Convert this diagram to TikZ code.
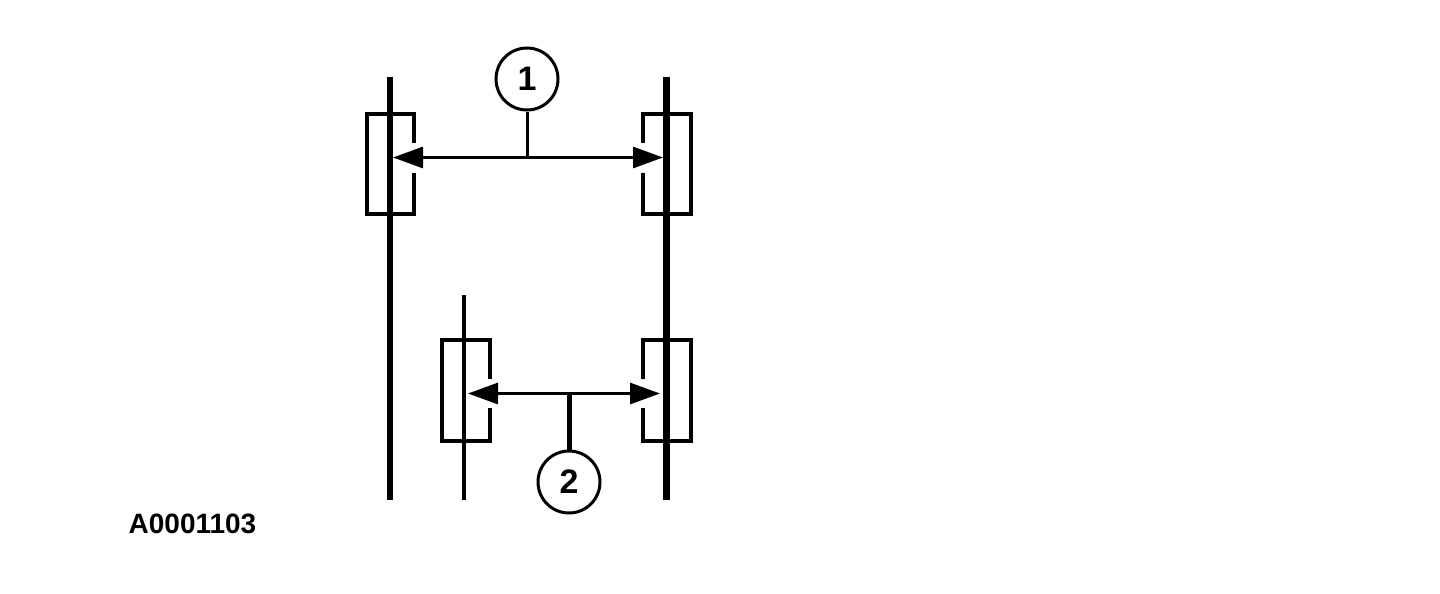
\documentclass[tikz,border=0pt]{standalone}
\usepackage{fontspec}
\setmainfont{Liberation Sans}
\usetikzlibrary{arrows.meta}
\tikzstyle{callout} = [circle, minimum size=31pt, inner sep=0pt, text centered, draw=black, line width=1.5pt, font=\fontsize{17}{17}\selectfont\bfseries]
\tikzstyle{caption} = [inner sep=0pt, font=\fontsize{14}{14}\selectfont\bfseries]
\tikzstyle{axle} = [line width=3.2pt]
\tikzstyle{thinaxle} = [line width=2pt]
\tikzstyle{wheel} = [line width=2pt, miter limit=10]
\tikzstyle{leader} = [line width=1.5pt]
\tikzstyle{arrow} = [-{Stealth[length=15pt, width=10.5pt, inset=0pt]}, line width=1.5pt]

\begin{document}
\begin{tikzpicture}[x=0.5pt, y=-0.5pt]
		\useasboundingbox (0,0) rectangle (1440,594);
		%callouts and part number
		\node[callout](num1) at (527,79){1};
		\node[callout](num2) at (569,482){2};
		\node[caption](partno) at (192.5,523.5){A0001103};
		%axle ends
		\coordinate (topL) at (390,77);
		\coordinate (botL) at (390,500);
		\coordinate (topR) at (666.5,77);
		\coordinate (botR) at (666.5,500);
		\coordinate (topM) at (464,295);
		\coordinate (botM) at (464,500);
		%arrow points
		\coordinate (jun1) at (527,157.5);
		\coordinate (tip1L) at (393,157.5);
		\coordinate (tip1R) at (663,157.5);
		\coordinate (jun2) at (569,393.5);
		\coordinate (tip2L) at (468,393.5);
		\coordinate (tip2R) at (660,393.5);
		%axles
		\draw [axle] (topL) -- (botL);
		\draw [axle] (topR) -- (botR);
		\draw [thinaxle] (topM) -- (botM);
		%wheels with a gap for the arrow
		\draw [wheel] (414,143) -- (414,114) -- (366.5,114) -- (366.5,214) -- (414,214) -- (414,173);
		\draw [wheel] (642.5,143) -- (642.5,114) -- (691,114) -- (691,214) -- (642.5,214) -- (642.5,173);
		\draw [wheel] (490,379) -- (490,340) -- (441.5,340) -- (441.5,441) -- (490,441) -- (490,408);
		\draw [wheel] (642.5,379) -- (642.5,340) -- (691,340) -- (691,441) -- (642.5,441) -- (642.5,408);
		%leaders and arrows
		\draw [leader] (num1) -- (jun1);
		\draw [arrow] (jun1) -- (tip1L);
		\draw [arrow] (jun1) -- (tip1R);
		\draw [leader, line width=2.5pt] (num2) -- (jun2);
		\draw [arrow] (jun2) -- (tip2L);
		\draw [arrow] (jun2) -- (tip2R);

	\end{tikzpicture}
\end{document}
